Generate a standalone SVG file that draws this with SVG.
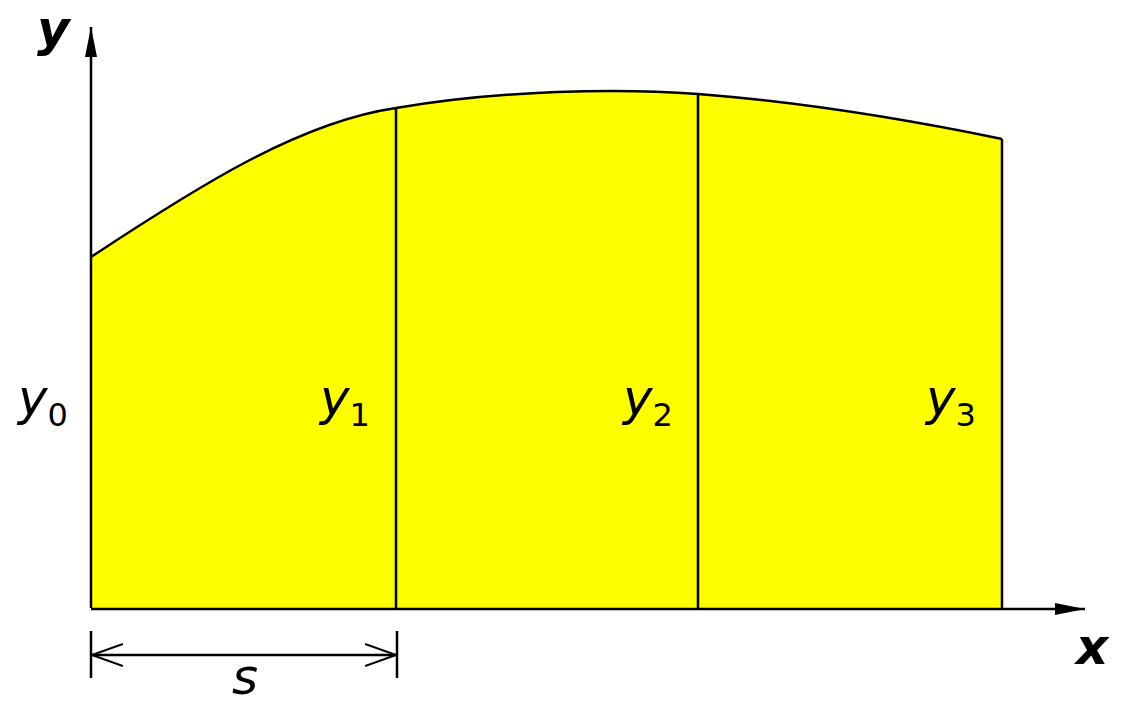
<svg xmlns="http://www.w3.org/2000/svg" width="1122" height="705" viewBox="0 0 1122 705">
<style>
.ln{stroke:#000;stroke-width:2.5;fill:none}
.lbl{font-family:"DejaVu Sans",sans-serif;font-style:oblique;font-size:50px;fill:#000}
.sub{font-style:normal;font-size:32px}
.ax{font-family:"DejaVu Sans",sans-serif;font-style:oblique;font-weight:bold;font-size:50px;fill:#000}
</style>
<defs>
<marker id="ah" viewBox="0 0 30 12" refX="30" refY="6" markerWidth="30" markerHeight="12" markerUnits="userSpaceOnUse" orient="auto"><path d="M0,0 L30,6 L0,12 Z" fill="#000"/></marker>
<marker id="oa" viewBox="0 0 32 24" refX="31" refY="12" markerWidth="32" markerHeight="24" markerUnits="userSpaceOnUse" orient="auto-start-reverse"><path d="M0,1 L31,12 L0,23" fill="none" stroke="#000" stroke-width="2"/></marker>
</defs>
<g id="area">
<path d="M91,257 C200,185 300,122 396,108 C500,90 620,88 698,94 C800,102 900,118 1002,139 L1002,608 L91,608 Z" fill="#ffff00"/>
<path class="ln" d="M91,257 C200,185 300,122 396,108 C500,90 620,88 698,94 C800,102 900,118 1002,139"/>
</g>
<g id="ordinates">
<line class="ln" x1="396" y1="108" x2="396" y2="608"/>
<line class="ln" x1="698" y1="94" x2="698" y2="608"/>
<line class="ln" x1="1002" y1="139" x2="1002" y2="608"/>
</g>
<g id="axes">
<line class="ln" x1="91" y1="608" x2="91" y2="27" marker-end="url(#ah)"/>
<line class="ln" x1="91" y1="609" x2="1085" y2="609" marker-end="url(#ah)"/>
</g>
<g id="dimension">
<line class="ln" x1="91" y1="631" x2="91" y2="678"/>
<line class="ln" x1="397" y1="631" x2="397" y2="678"/>
<line class="ln" x1="92" y1="655" x2="396" y2="655" marker-start="url(#oa)" marker-end="url(#oa)"/>
</g>
<g id="labels">
<text class="ax" x="37" y="46">y</text>
<text class="ax" x="1076" y="664">x</text>
<text class="lbl" x="232" y="694">s</text>
<text class="lbl" x="18" y="415">y<tspan class="sub" dy="11">0</tspan></text>
<text class="lbl" x="320" y="415">y<tspan class="sub" dy="11">1</tspan></text>
<text class="lbl" x="623" y="415">y<tspan class="sub" dy="11">2</tspan></text>
<text class="lbl" x="926" y="415">y<tspan class="sub" dy="11">3</tspan></text>
</g>
</svg>
